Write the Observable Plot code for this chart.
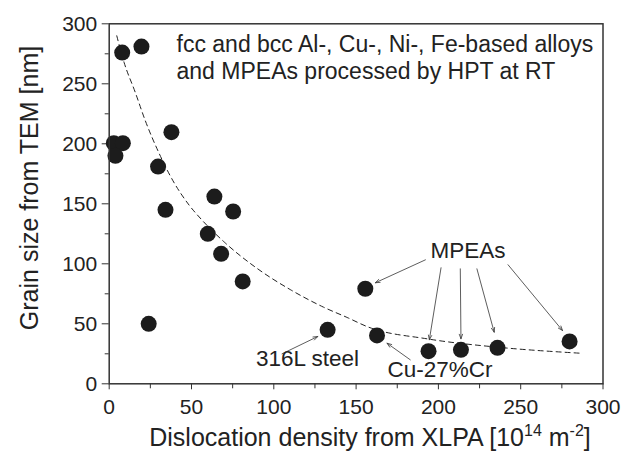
<!DOCTYPE html>
<html>
<head>
<meta charset="utf-8">
<script src="https://cdn.jsdelivr.net/npm/d3@7"></script>
<script src="https://cdn.jsdelivr.net/npm/@observablehq/plot@0.6"></script>
<style>
  html, body { margin: 0; padding: 0; background: #fff; }
  #chart svg { display: block; overflow: visible; }
</style>
</head>
<body>
<div id="chart"></div>
<script>
// Scatter data: dislocation density (10^14 m^-2) vs grain size (nm)
const dislocation = [7.9, 19.6, 2.8, 8.3, 3.8, 37.8, 29.7, 63.9, 34.2, 75.3, 59.9, 68.0, 81.1, 24.0, 132.7, 155.6, 162.7, 194.0, 213.7, 235.9, 279.7];
const grainSize   = [276, 281, 200.5, 200.5, 190, 209.7, 181, 156, 145, 143.6, 125, 108.3, 85.3, 50, 45, 79.2, 40.3, 27.2, 28.3, 30, 35.3];

// Dashed trend curve
const fitX = [4.6, 9, 15.8, 22, 30, 38, 48.5, 56, 70, 90, 110, 130, 145, 157, 193, 236, 286];
const fitY = [290, 268, 243, 219, 193, 171, 149, 137, 118, 96, 78.5, 64, 55, 47.5, 37.5, 30.5, 25.5];

// Tick values
const majorTicks = [0, 50, 100, 150, 200, 250, 300];
const minorTicks = [25, 75, 125, 175, 225, 275];

// Annotation arrows (tail -> head) in data units
const arrowX1 = [192.1, 201.6, 213.3, 223.4, 242.3, 182.9, 105.0];
const arrowY1 = [103.3, 96.7, 95.8, 95.8, 99.2, 20.0, 25.0];
const arrowX2 = [161.7, 194.5, 213.7, 233.9, 275.4, 168.8, 126.7];
const arrowY2 = [84.2, 36.7, 37.5, 43.0, 44.4, 33.8, 39.4];

// Labels
const labelText = ["MPEAs", "Cu-27%Cr", "316L steel"];
const labelX = [218, 201, 120.5];
const labelY = [111, 12, 21];
const noteLines = ["fcc and bcc Al-, Cu-, Ni-, Fe-based alloys", "and MPEAs processed by HPT at RT"];
const noteX = [40.9, 40.9];
const noteY = [282.5, 260];
const xTitleParts = ["Dislocation density from XLPA [10", "14", " m", "-2", "]"];
const yTitle = "Grain size from TEM [nm]";

const points = dislocation.map((d, i) => ({x: d, y: grainSize[i]}));
const fit = fitX.map((d, i) => ({x: d, y: fitY[i]}));
const arrows = arrowX1.map((d, i) => ({x1: d, y1: arrowY1[i], x2: arrowX2[i], y2: arrowY2[i]}));
const labels = labelText.map((t, i) => ({t, x: labelX[i], y: labelY[i]}));
const notes = noteLines.map((t, i) => ({t, x: noteX[i], y: noteY[i]}));

const ink = "#222";
const font = "'Liberation Sans', Arial, Helvetica, sans-serif";

const plot = Plot.plot({
  width: 633,
  height: 455,
  marginLeft: 108.7,
  marginRight: 30.5,
  marginTop: 23.3,
  marginBottom: 71.7,
  style: {fontFamily: font, color: ink, background: "#fff", overflow: "visible"},
  x: {domain: [0, 300]},
  y: {domain: [0, 300]},
  marks: [
    Plot.axisX(majorTicks, {tickSize: 6, tickPadding: 9, fontSize: 21, label: null, stroke: "#333", fill: ink}),
    Plot.axisX(minorTicks, {tickSize: 5, tickFormat: () => "", label: null, stroke: "#333"}),
    Plot.axisY(majorTicks, {tickSize: 7, tickPadding: 5, fontSize: 21, label: null, stroke: "#333", fill: ink}),
    Plot.axisY(minorTicks, {tickSize: 4, tickFormat: () => "", label: null, stroke: "#333"}),
    Plot.line(fit, {x: "x", y: "y", curve: "monotone-x", stroke: "#222", strokeWidth: 1, strokeDasharray: "5,4"}),
    Plot.arrow(arrows, {x1: "x1", y1: "y1", x2: "x2", y2: "y2", stroke: "#333", strokeWidth: 0.8, headLength: 9, headAngle: 40}),
    Plot.dot(points, {x: "x", y: "y", r: 8, fill: "#1c1c1c", stroke: "none"}),
    Plot.text(labels, {x: "x", y: "y", text: "t", fontSize: 22.5, fill: ink}),
    Plot.text(notes, {x: "x", y: "y", text: "t", fontSize: 23, textAnchor: "start", fill: ink}),
    Plot.frame({stroke: "#333", strokeWidth: 1.5})
  ]
});

const svg = d3.select(plot);

// Y axis title
svg.append("text")
  .attr("transform", "translate(38,188) rotate(-90)")
  .attr("text-anchor", "middle")
  .attr("font-family", font)
  .attr("font-size", 25)
  .attr("fill", ink)
  .text(yTitle);

// X axis title with superscripts
const t = svg.append("text")
  .attr("x", 370)
  .attr("y", 446)
  .attr("text-anchor", "middle")
  .attr("font-family", font)
  .attr("font-size", 25)
  .attr("fill", ink);
t.append("tspan").text(xTitleParts[0]);
t.append("tspan").attr("dy", -10).attr("font-size", 16).text(xTitleParts[1]);
t.append("tspan").attr("dy", 10).text(xTitleParts[2]);
t.append("tspan").attr("dy", -10).attr("font-size", 16).text(xTitleParts[3]);
t.append("tspan").attr("dy", 10).text(xTitleParts[4]);

document.getElementById("chart").appendChild(plot);
</script>
</body>
</html>
